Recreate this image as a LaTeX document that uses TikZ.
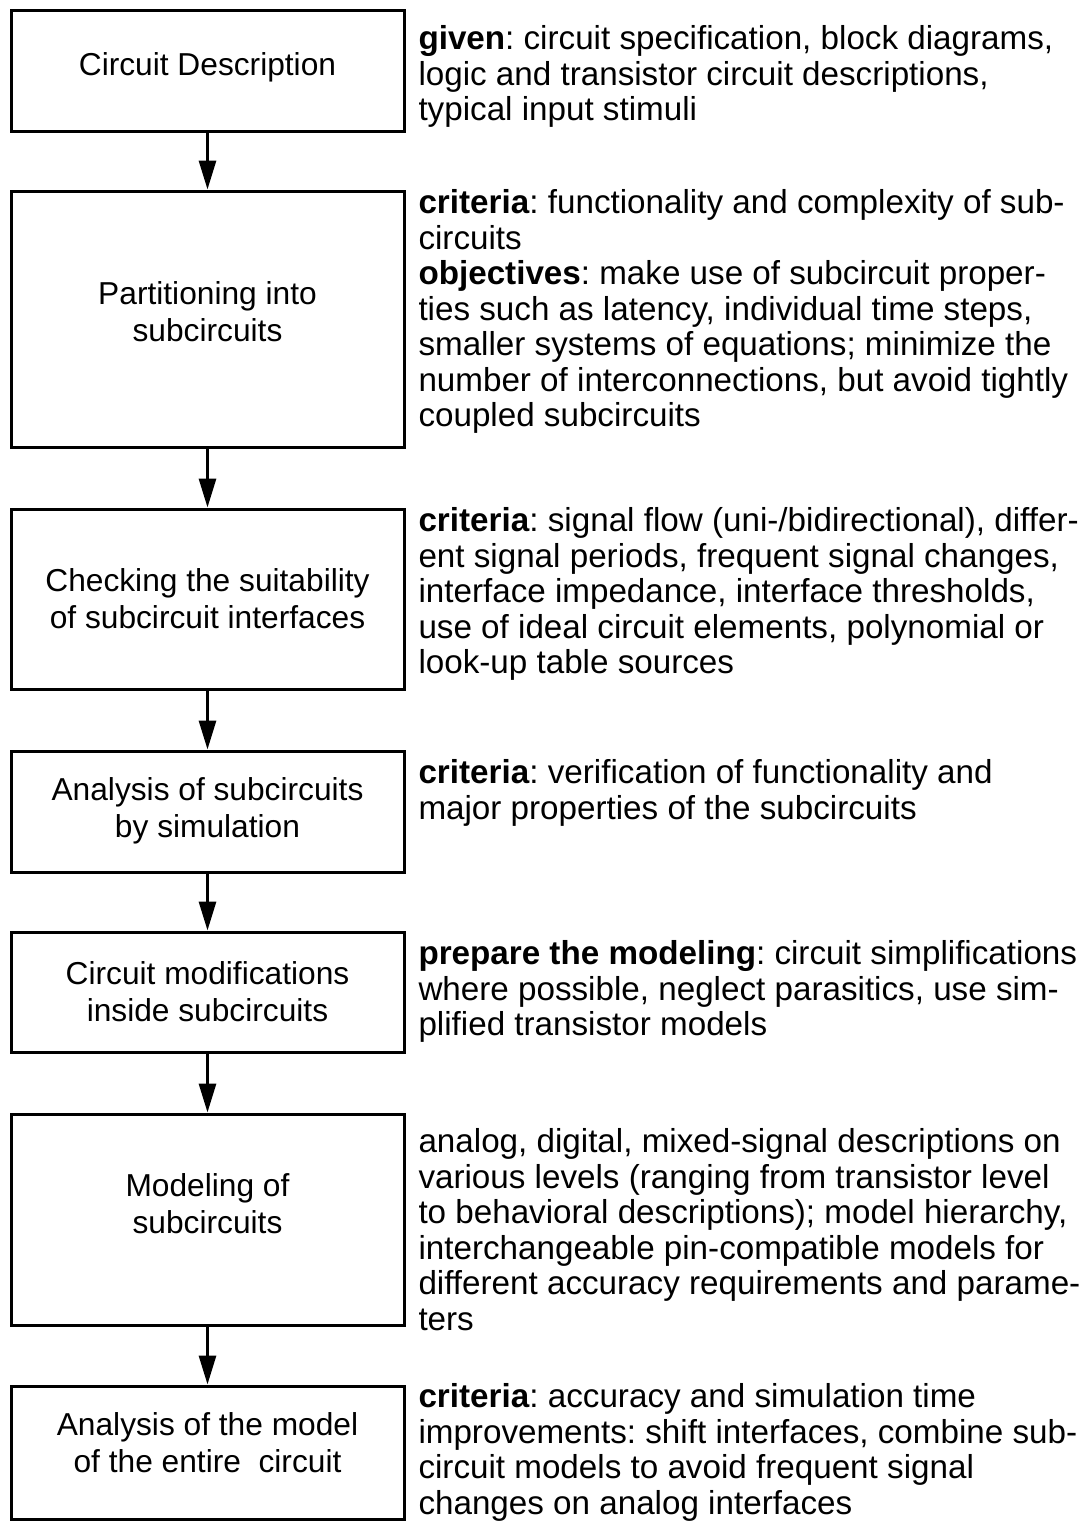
\documentclass[tikz,border=0pt]{standalone}
\usepackage{fontspec}
\setmainfont{Liberation Sans}
\usetikzlibrary{arrows.meta}
\tikzset{>={Triangle[length=14.5pt,width=8.5pt]}}
\frenchspacing

\begin{document}
\begin{tikzpicture}[x=0.5pt,y=-0.5pt,line width=1.5pt,
    box/.style={draw,minimum width=196.5pt,inner sep=0pt},
    boxtext/.style={align=center,inner sep=0pt,font=\fontsize{15.85pt}{18.5pt}\selectfont},
    desc/.style={anchor=north west,align=left,inner sep=0pt,font=\fontsize{16.6pt}{17.75pt}\selectfont}]
    \useasboundingbox (0,0) rectangle (1088,1522);
    % steps
    \node[box,minimum height=60.5pt] (b1) at (207.5,70.5) {};
    \node[box,minimum height=128pt] (b2) at (207.5,319) {};
    \node[box,minimum height=90pt] (b3) at (207.5,599) {};
    \node[box,minimum height=60.5pt] (b4) at (207.5,811.5) {};
    \node[box,minimum height=60pt] (b5) at (207.5,992) {};
    \node[box,minimum height=105.5pt] (b6) at (207.5,1219.5) {};
    \node[box,minimum height=66.75pt] (b7) at (207.5,1452.75) {};
    \node[boxtext] (t1) at (207.5,67) {Circuit Description};
    \node[boxtext] (t2) at (207.5,311.5) {Partitioning into\\subcircuits};
    \node[boxtext] (t3) at (207.5,598.5) {Checking the suitability\\of subcircuit interfaces};
    \node[boxtext] (t4) at (207.5,811) {Analysis of subcircuits\\by simulation};
    \node[boxtext] (t5) at (207.5,991.5) {Circuit modifications\\inside subcircuits};
    \node[boxtext] (t6) at (207.5,1204) {Modeling of\\subcircuits};
    \node[boxtext] (t7) at (207.5,1443) {Analysis of the model\\of the entire~ circuit};
    \foreach \i [count=\j from 2] in {1,...,6}
        \draw[->] (b\i) -- (b\j);
    % explanations
    \node[desc] (d1) at (417,24) {\textbf{given}: circuit specification, block diagrams,\\logic and transistor circuit descriptions,\\typical input stimuli};
    \node[desc] (d2) at (417,188) {\textbf{criteria}: functionality and complexity of sub-\\circuits\\\textbf{objectives}: make use of subcircuit proper-\\ties such as latency, individual time steps,\\smaller systems of equations; minimize the\\number of interconnections, but avoid tightly\\coupled subcircuits};
    \node[desc] (d3) at (417,506) {\textbf{criteria}: signal flow (uni-/bidirectional), differ-\\ent signal periods, frequent signal changes,\\interface impedance, interface thresholds,\\use of ideal circuit elements, polynomial or\\look-up table sources};
    \node[desc] (d4) at (417,758) {\textbf{criteria}: verification of functionality and\\major properties of the subcircuits};
    \node[desc] (d5) at (417,939) {\textbf{prepare the modeling}: circuit simplifications\\where possible, neglect parasitics, use sim-\\plified transistor models};
    \node[desc] (d6) at (417,1127) {analog, digital, mixed-signal descriptions on\\various levels (ranging from transistor level\\to behavioral descriptions); model hierarchy,\\interchangeable pin-compatible models for\\different accuracy requirements and parame-\\ters};
    \node[desc] (d7) at (417,1382) {\textbf{criteria}: accuracy and simulation time\\improvements: shift interfaces, combine sub-\\circuit models to avoid frequent signal\\changes on analog interfaces};
\end{tikzpicture}
\end{document}
